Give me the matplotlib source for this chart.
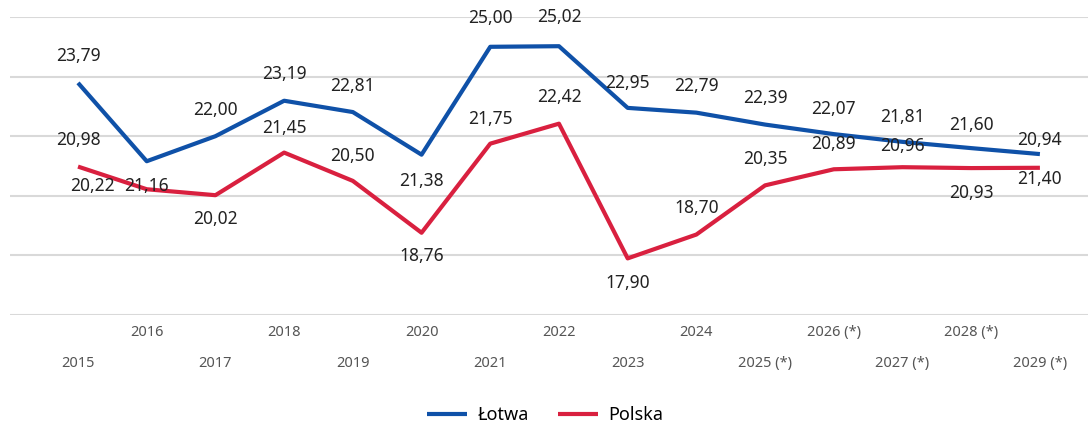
import matplotlib.pyplot as plt
from matplotlib.transforms import offset_copy

plt.rcParams['font.family'] = ['Noto Sans', 'DejaVu Sans']

years = list(range(2015, 2030))
year_labels = ['2015', '2016', '2017', '2018', '2019', '2020', '2021', '2022', '2023',
               '2024', '2025 (*)', '2026 (*)', '2027 (*)', '2028 (*)', '2029 (*)']
lotwa = [23.79, 21.16, 22.00, 23.19, 22.81, 21.38, 25.00, 25.02, 22.95,
         22.79, 22.39, 22.07, 21.81, 21.60, 21.40]
polska = [20.98, 20.22, 20.02, 21.45, 20.50, 18.76, 21.75, 22.42, 17.90,
          18.70, 20.35, 20.89, 20.96, 20.93, 20.94]

# label offsets in points (dx, dy), picked to match the original placement
lotwa_off = [(0, 19), (0, -18), (0, 19), (0, 19), (0, 19), (0, -19), (0, 21), (0, 21),
             (0, 18), (0, 19), (0, 19), (0, 18), (0, 18), (0, 17), (0, -18)]
polska_off = [(0, 19), (-39, 2), (0, -17), (0, 18), (0, 18), (0, -17), (0, 18), (0, 19),
              (0, -18), (0, 19), (0, 19), (0, 18), (0, 15), (0, -18), (0, 20)]

blue = '#0f51a8'
red = '#d9203f'

fig = plt.figure(figsize=(10.91, 4.25), dpi=100)
ax = fig.add_axes([10 / 1091, 1 - 315 / 425, 1078 / 1091, 298 / 425])

ax.plot(years, lotwa, color=blue, lw=3, label='Łotwa', solid_capstyle='butt', zorder=3)
ax.plot(years, polska, color=red, lw=3, label='Polska', solid_capstyle='butt', zorder=3)

for vals, offs in ((lotwa, lotwa_off), (polska, polska_off)):
    for x, v, (dx, dy) in zip(years, vals, offs):
        tr = offset_copy(ax.transData, fig=fig, x=dx, y=dy, units='points')
        ax.text(x, v, f'{v:.2f}'.replace('.', ','), transform=tr, ha='center', va='center',
                fontsize=12.5, color='#222222', zorder=4)

ax.set_xlim(2014.01, 2029.70)
ax.set_ylim(16, 26)
ax.set_yticks(range(16, 27, 2))
ax.yaxis.grid(True, color='#d9d9d9', lw=1.5)
ax.set_axisbelow(True)
ax.tick_params(axis='y', left=False, labelleft=False)
for s in ax.spines.values():
    s.set_visible(False)

ax.set_xticks(years[1::2], year_labels[1::2])
ax.set_xticks(years[0::2], year_labels[0::2], minor=True)
ax.tick_params(axis='x', which='both', length=0, labelsize=10.5, labelcolor='#555555')
ax.tick_params(axis='x', which='major', pad=7.5)
ax.tick_params(axis='x', which='minor', pad=29.5)

fig.legend(loc='center', bbox_to_anchor=(0.5, 1 - 415 / 425), ncol=2, frameon=False,
           fontsize=13, handlelength=2.2, columnspacing=1.6, handletextpad=0.6)

fig.savefig('out.png', dpi=100)
